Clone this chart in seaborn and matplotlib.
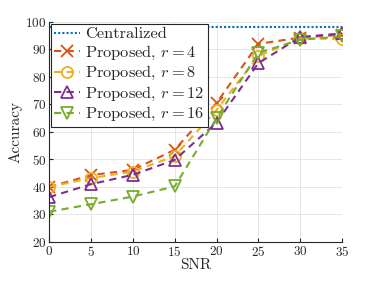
import numpy as np
import pandas as pd
import matplotlib
matplotlib.use("Agg")
import matplotlib.pyplot as plt
import seaborn as sns

# valores
snr = [0, 5, 10, 15, 20, 25, 30, 35]
centralizado = [98.3] * 8
r4 = [40.0, 44.3, 46.2, 53.5, 70.5, 92.0, 94.3, 95.3]
r8 = [40.0, 43.2, 45.6, 51.2, 68.0, 87.6, 94.0, 93.8]
r12 = [36.3, 41.0, 44.4, 49.8, 63.4, 85.0, 94.5, 95.8]
r16 = [31.0, 33.7, 36.5, 40.2, 65.0, 88.7, 93.5, 94.7]

series = [
    ("Centralized", centralizado, "#0072BD", (1, 1), None),
    ("Proposed, $r = 4$", r4, "#D95319", (3.5, 2.5), "x"),
    ("Proposed, $r = 8$", r8, "#EDB120", (3.5, 2.5), "o"),
    ("Proposed, $r = 12$", r12, "#7E2F8E", (3.5, 2.5), "^"),
    ("Proposed, $r = 16$", r16, "#77AC30", (3.5, 2.5), "v"),
]

sns.set_style("whitegrid")
plt.rcParams["font.family"] = ["cmr10", "DejaVu Serif"]
plt.rcParams["mathtext.fontset"] = "cm"
plt.rcParams["axes.formatter.use_mathtext"] = True

fig = plt.figure(figsize=(3.78, 2.84), dpi=100)
ax = fig.add_axes([0.130, 0.148, 0.775, 0.775])

for nome, valores, cor, traco, marcador in series:
    df = pd.DataFrame({"SNR": snr, "Accuracy": valores})
    if marcador is None:
        linhas = sns.lineplot(data=df, x="SNR", y="Accuracy", ax=ax, color=cor,
                              linewidth=1.5, label=nome)
    else:
        linhas = sns.lineplot(data=df, x="SNR", y="Accuracy", ax=ax, color=cor,
                              linewidth=1.5, marker=marcador,
                              markersize=8, markerfacecolor="none",
                              markeredgecolor=cor, markeredgewidth=1.3, label=nome)
    ax.lines[-1].set_dashes(traco)

ax.set_xlim(0, 35)
ax.set_ylim(20, 100)
ax.set_xticks(snr)
ax.set_yticks(np.arange(20, 101, 10))
ax.set_xlabel("SNR", fontsize=11, labelpad=0)
ax.set_ylabel("Accuracy", fontsize=11, labelpad=2)
ax.tick_params(axis="both", labelsize=9.5, direction="in", length=3, pad=2,
               colors="#262626", bottom=True, left=True)
ax.grid(True, color="#e6e6e6", linewidth=0.7)
for lado in ["top", "right"]:
    ax.spines[lado].set_visible(False)
for lado in ["left", "bottom"]:
    ax.spines[lado].set_color("#262626")
    ax.spines[lado].set_linewidth(0.8)

leg = ax.legend(loc="upper left", fontsize=11.8, labelspacing=0.15,
                handlelength=1.6, handletextpad=0.3, borderpad=0.2,
                borderaxespad=0.1, fancybox=False, framealpha=1)
leg.get_frame().set_edgecolor("#262626")
leg.get_frame().set_linewidth(0.8)

fig.savefig("out.png", dpi=100)
